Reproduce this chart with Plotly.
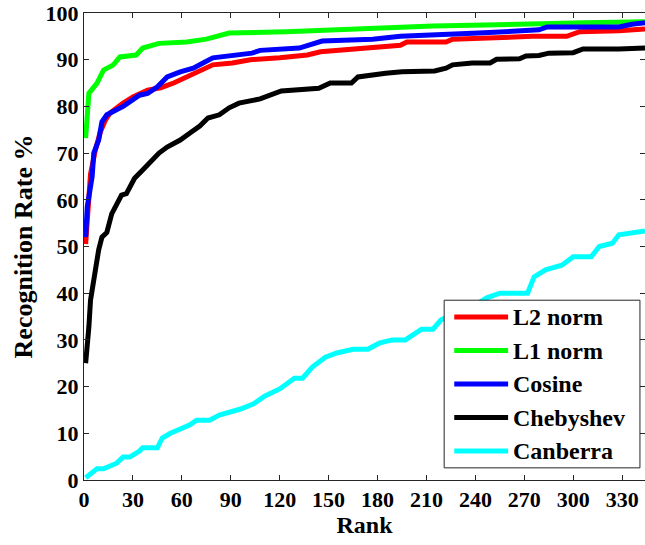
import plotly.graph_objects as go

# Cumulative match characteristic: recognition rate (%) versus rank
l2_rank = [1, 2, 4, 7, 10, 13, 16, 24, 30, 39, 47, 55, 63, 71, 79, 91, 102, 120, 137, 145,
           165, 181, 194, 198, 222, 226, 250, 275, 296, 304, 328, 344]
l2_rate = [50.5, 55, 65.5, 70.7, 74.5, 77, 78.6, 80.7, 82, 83.5, 84, 85, 86.3, 87.6, 88.9,
           89.3, 90, 90.4, 91, 91.7, 92.3, 92.8, 93.1, 93.8, 93.8, 94.4, 94.8, 95, 95, 96,
           96.2, 96.6]

l1_rank = [1, 2, 3, 8, 12, 18, 22, 32, 36, 46, 63, 75, 89, 124, 165, 214, 306, 344]
l1_rate = [73.2, 80, 82.8, 85, 87.8, 88.9, 90.6, 91, 92.5, 93.5, 93.8, 94.4, 95.7, 96,
           96.6, 97.2, 97.9, 98.1]

cos_rank = [1, 2, 5, 6, 9, 11, 14, 24, 34, 39, 45, 51, 59, 67, 73, 79, 103, 108, 132, 140,
            146, 177, 194, 242, 279, 284, 328, 336, 344]
cos_rate = [52, 58.5, 65, 70, 72.8, 76.7, 78.2, 80, 82.4, 82.8, 84.2, 86.3, 87.4, 88.2,
            89.3, 90.4, 91.4, 92, 92.5, 93.5, 94, 94.4, 95, 95.7, 96.4, 97, 97, 97.6, 97.9]

cheb_rank = [1, 2, 3, 4, 5, 7, 9, 11, 14, 17, 20, 23, 26, 28, 31, 36, 41, 46, 51, 59, 65,
             71, 76, 83, 89, 95, 108, 117, 121, 144, 151, 164, 168, 185, 195, 215, 222,
             226, 238, 249, 253, 267, 271, 279, 285, 300, 306, 328, 344]
cheb_rate = [25, 28, 32.8, 38.5, 40.7, 45, 49.3, 52, 53, 57, 59.3, 61, 61.3, 62.5, 64.6,
             66.4, 68.1, 70, 71.3, 72.8, 74.3, 75.8, 77.5, 78.2, 79.7, 80.7, 81.6, 82.8,
             83.3, 83.9, 85, 85, 86.3, 87.1, 87.4, 87.6, 88.2, 88.9, 89.3, 89.3, 90.1,
             90.2, 90.8, 90.9, 91.4, 91.5, 92.3, 92.3, 92.5]

canb_rank = [1, 8, 12, 20, 24, 28, 34, 36, 45, 48, 53, 59, 65, 69, 77, 83, 89, 96, 104,
             111, 120, 129, 134, 140, 148, 155, 165, 174, 181, 189, 197, 207, 214, 219,
             230, 240, 247, 255, 272, 276, 283, 293, 300, 311, 316, 324, 328, 340, 344]
canb_rate = [0.5, 2.4, 2.4, 3.6, 4.9, 4.9, 6.2, 6.9, 6.9, 9, 10, 11, 11.8, 12.8, 12.8,
             13.9, 14.4, 15.2, 16.3, 18, 19.5, 21.8, 21.8, 24.2, 26.3, 27.2, 28, 28, 29.3,
             30, 30, 32.3, 32.3, 34.3, 36, 37.5, 39, 40, 40, 43.5, 45, 46, 47.8, 47.8, 50,
             50.7, 52.5, 53.1, 53.3]

series_names = ["L2 norm", "L1 norm", "Cosine", "Chebyshev", "Canberra"]
series_ranks = [l2_rank, l1_rank, cos_rank, cheb_rank, canb_rank]
series_rates = [l2_rate, l1_rate, cos_rate, cheb_rate, canb_rate]
series_colors = ["#FF0000", "#00FF00", "#0000FF", "#000000", "#00FFFF"]

x_ticks = list(range(0, 331, 30))
y_ticks = list(range(0, 101, 10))

FONT = "Liberation Serif"
TICK = dict(family=FONT, size=22, color="black", weight="bold")
LEG = dict(family=FONT, size=24, color="black", weight="bold")
XTITLE = dict(family=FONT, size=24, color="black", weight="bold")
YTITLE = dict(family=FONT, size=26, color="black", weight="bold")

fig = go.Figure()
for name, r, v, c in zip(series_names, series_ranks, series_rates, series_colors):
    fig.add_trace(go.Scatter(x=r, y=v, mode="lines", name=name,
                             line=dict(color=c, width=5), showlegend=False))

# Boxed legend in the lower-right corner, with long line samples
box = dict(x0=0.642, x1=0.991, y0=0.026, y1=0.385)
row_h = (box["y1"] - box["y0"]) / len(series_names)
shapes = [dict(type="rect", xref="paper", yref="paper", layer="above",
               fillcolor="white", line=dict(color="#262626", width=1), **box)]
annotations = []
for i, (name, c) in enumerate(zip(series_names, series_colors)):
    yc = box["y1"] - row_h * (i + 0.5)
    shapes.append(dict(type="line", xref="paper", yref="paper", layer="above",
                       x0=0.660, x1=0.756, y0=yc, y1=yc,
                       line=dict(color=c, width=5)))
    annotations.append(dict(text=name, xref="paper", yref="paper", x=0.762, y=yc,
                            xanchor="left", yanchor="middle", showarrow=False,
                            font=LEG))

axis_common = dict(
    showgrid=False, zeroline=False, showline=True, linecolor="#262626", linewidth=1,
    mirror="ticks", ticks="inside", ticklen=5, tickcolor="#262626",
    tickfont=TICK,
)

fig.update_layout(
    width=645, height=545,
    margin=dict(l=84, r=0, t=13, b=65),
    paper_bgcolor="white", plot_bgcolor="white",
    font=TICK,
    xaxis=dict(range=[0, 344], tickvals=x_ticks,
               title=dict(text="Rank", standoff=3, font=XTITLE),
               **axis_common),
    yaxis=dict(range=[0, 100], tickvals=y_ticks,
               title=dict(text="Recognition Rate %", standoff=5, font=YTITLE),
               **axis_common),
    shapes=shapes,
    annotations=annotations,
    showlegend=False,
)

fig.write_html("out.html")
